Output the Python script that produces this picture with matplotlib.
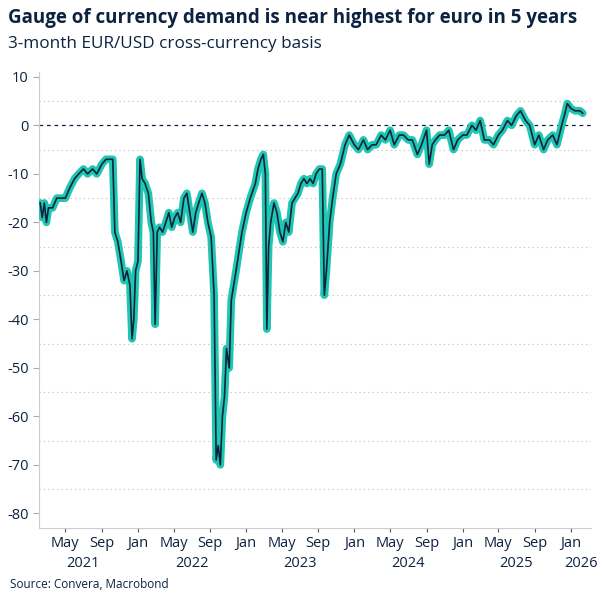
import matplotlib
matplotlib.use("Agg")
import matplotlib.pyplot as plt
import pandas as pd

dates = ["2021-02-05","2021-02-12","2021-02-19","2021-02-26","2021-03-05","2021-03-19","2021-04-02","2021-04-16","2021-05-01","2021-05-15",
"2021-06-01","2021-06-15","2021-07-01","2021-07-15","2021-08-01","2021-08-15","2021-09-01","2021-09-15","2021-10-01","2021-10-08",
"2021-10-15","2021-10-25","2021-11-05","2021-11-15","2021-11-25","2021-12-05","2021-12-12","2021-12-18","2021-12-24","2022-01-01",
"2022-01-08","2022-01-15","2022-01-25","2022-02-05","2022-02-15","2022-02-22","2022-02-28","2022-03-07","2022-03-15","2022-03-25",
"2022-04-05","2022-04-15","2022-04-25","2022-05-05","2022-05-15","2022-05-25","2022-06-05","2022-06-15","2022-06-25","2022-07-05",
"2022-07-15","2022-07-25","2022-08-05","2022-08-15","2022-08-25","2022-09-05","2022-09-15","2022-09-22","2022-09-29","2022-10-06",
"2022-10-13","2022-10-20","2022-10-27","2022-11-05","2022-11-12","2022-11-20","2022-11-28","2022-12-08","2022-12-18","2023-01-01",
"2023-01-15","2023-02-01","2023-02-10","2023-02-20","2023-02-28","2023-03-07","2023-03-12","2023-03-18","2023-03-25","2023-04-05",
"2023-04-15","2023-04-25","2023-05-05","2023-05-15","2023-05-25","2023-06-05","2023-06-15","2023-06-25","2023-07-05","2023-07-15",
"2023-07-25","2023-08-05","2023-08-15","2023-08-25","2023-09-05","2023-09-15","2023-09-22","2023-09-29","2023-10-10","2023-10-20",
"2023-11-01","2023-11-15","2023-12-01","2023-12-15","2024-01-01","2024-01-15","2024-02-01","2024-02-15","2024-03-01","2024-03-15",
"2024-04-01","2024-04-15","2024-05-01","2024-05-15","2024-06-01","2024-06-15","2024-07-01","2024-07-15","2024-08-01","2024-08-15",
"2024-09-01","2024-09-10","2024-09-20","2024-10-01","2024-10-15","2024-11-01","2024-11-15","2024-12-01","2024-12-15","2025-01-01",
"2025-01-15","2025-02-01","2025-02-15","2025-03-01","2025-03-15","2025-04-01","2025-04-15","2025-05-01","2025-05-15","2025-06-01",
"2025-06-15","2025-07-01","2025-07-15","2025-08-01","2025-08-15","2025-09-01","2025-09-15","2025-10-01","2025-10-15","2025-11-01",
"2025-11-15","2025-12-01","2025-12-10","2025-12-20","2026-01-01","2026-01-15","2026-02-01","2026-02-10"]
values = [-16,-19,-16,-20,-17,-17,-15,-15,-15,-13,
-11,-10,-9,-10,-9,-10,-8,-7,-7,-7,
-22,-24,-28,-32,-30,-33,-44,-40,-30,-28,
-7,-11,-12,-14,-20,-22,-41,-22,-21,-22,
-20,-18,-21,-19,-18,-20,-15,-14,-18,-22,
-18,-16,-14,-16,-20,-23,-35,-69,-66,-70,
-60,-56,-46,-50,-36,-33,-30,-26,-22,-18,
-15,-12,-9,-7,-6,-10,-42,-25,-20,-16,
-18,-22,-24,-20,-22,-16,-15,-14,-12,-11,
-12,-11,-12,-10,-9,-9,-35,-30,-20,-15,
-10,-8,-4,-2,-4,-5,-3,-5,-4,-4,
-2,-3,-1,-4,-2,-2,-3,-3,-6,-4,
-1,-8,-4,-3,-2,-2,-1,-5,-3,-2,
-2,0,-1,1,-3,-3,-4,-2,-1,1,
0,2,3,1,0,-4,-2,-5,-3,-2,
-4,0,2,4.5,3.5,3,3,2.5]

d = pd.to_datetime(dates)
navy = "#0c2340"
teal = "#1fc6b0"

fig = plt.figure(figsize=(6.04, 6.04), dpi=100)
ax = fig.add_axes([39/604, 1-528/604, 552/604, 456/604])
ax.plot(d, values, color=teal, lw=5.5, solid_capstyle="round", solid_joinstyle="round", zorder=3)
ax.plot(d, values, color=navy, lw=1.2, zorder=4)
ax.axhline(0, color=navy, lw=0.9, ls=(0, (3, 3)), zorder=2)
for yv in range(-75, 10, 10):
    ax.axhline(yv, color="#bbbbbb", lw=0.8, ls=(0, (1, 3)), zorder=1)

ax.set_ylim(-83, 11)
ax.set_xlim(pd.Timestamp("2021-02-01"), pd.Timestamp("2026-03-10"))
ax.set_yticks(range(-80, 11, 10))
ax.set_yticklabels([str(v) for v in range(-80, 11, 10)])

ticks = []
labels = []
for y in range(2021, 2027):
    for m in (1, 5, 9):
        t = pd.Timestamp(year=y, month=m, day=1)
        if pd.Timestamp("2021-02-01") <= t <= pd.Timestamp("2026-03-10"):
            ticks.append(t)
            labels.append({1: "Jan", 5: "May", 9: "Sep"}[m])
ax.set_xticks(ticks)
ax.set_xticklabels(labels)
ax.set_xticks([pd.Timestamp(year=y, month=1, day=1) for y in range(2022, 2027)], minor=True)
ax.tick_params(axis="x", which="major", length=3, color="#555555", labelsize=10.5, labelcolor=navy, pad=3)
ax.tick_params(axis="x", which="minor", length=5, color="#555555")
ax.tick_params(axis="y", length=4, color="#aaaaaa", labelsize=10.5, labelcolor=navy)
for s in ("top", "right"):
    ax.spines[s].set_visible(False)
for s in ("left", "bottom"):
    ax.spines[s].set_color("#cccccc")

years = ["2021", "2022", "2023", "2024", "2025", "2026"]
ypos = ["2021-07-01", "2022-07-01", "2023-07-01", "2024-07-01", "2025-07-01", "2026-02-05"]
for yr, p in zip(years, ypos):
    ax.text(pd.Timestamp(p), -0.078, yr, transform=ax.get_xaxis_transform(), ha="center", va="center",
            fontsize=10.5, color=navy, family="Open Sans")

fig.text(8/604, 1-18/604, "Gauge of currency demand is near highest for euro in 5 years",
         fontsize=13.5, weight="bold", color=navy, family="Open Sans", va="center")
fig.text(8/604, 1-44/604, "3-month EUR/USD cross-currency basis", fontsize=12.3, color=navy,
         family="Open Sans", va="center")
fig.text(10/604, 1-585/604, "Source: Convera, Macrobond", fontsize=8.5, color=navy,
         family="Open Sans", va="center")
for lab in ax.get_xticklabels() + ax.get_yticklabels():
    lab.set_family("Open Sans")
fig.savefig("out.png", dpi=100, facecolor="white")
